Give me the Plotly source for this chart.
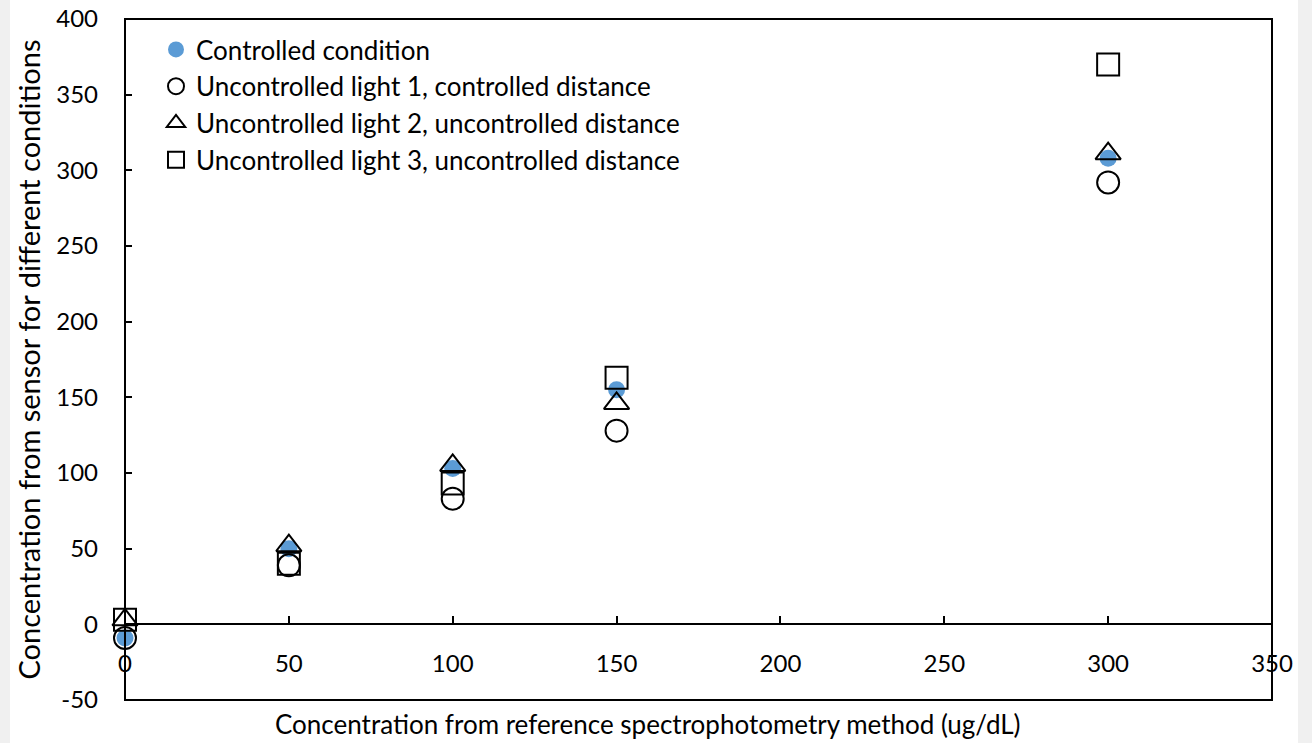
import plotly.graph_objects as go

# Reference concentrations (ug/dL)
reference = [0, 50, 100, 150, 300]

# Sensor readings under each condition
controlled = [-9, 50, 103, 155, 308]
light1_ctrl_dist = [-9, 39, 83, 128, 292]
light2_unctrl_dist = [3, 52, 105, 146, 311]
light3_unctrl_dist = [3, 40, 93, 163, 370]

series_names = [
    "Controlled condition",
    "Uncontrolled light 1, controlled distance",
    "Uncontrolled light 2, uncontrolled distance",
    "Uncontrolled light 3, uncontrolled distance",
]

x_ticks = [0, 50, 100, 150, 200, 250, 300, 350]
y_ticks = [-50, 0, 50, 100, 150, 200, 250, 300, 350, 400]
y_tick_text = ["-50", "0", "50", "100", "150", "200", "250", "300", "350", "400"]

FONT = "Lato"
W, H = 1312, 743
L, R, T, B = 125, 40, 19, 43
PW, PH = W - L - R, H - T - B


def px_x(p):
    return (p - L) / PW


def px_y(p):
    return (H - B - p) / PH


fig = go.Figure()

styles = [
    dict(symbol="circle", size=17, color="#5B9BD5", line=dict(width=0)),
    dict(symbol="circle-open", size=22, color="black", line=dict(width=2)),
    dict(symbol="triangle-up-open", size=22, color="black", line=dict(width=2)),
    dict(symbol="square-open", size=22, color="black", line=dict(width=2)),
]
values = [controlled, light1_ctrl_dist, light2_unctrl_dist, light3_unctrl_dist]

for i, (name, ys, st) in enumerate(zip(series_names, values, styles)):
    fig.add_trace(go.Scatter(
        x=reference, y=ys, mode="markers", name=name,
        legendgroup=f"g{i}", marker=st, cliponaxis=False,
    ))

fig.update_layout(
    width=W, height=H,
    margin=dict(l=L, r=R, t=T, b=B, autoexpand=False),
    paper_bgcolor="#f0f0f0",
    plot_bgcolor="white",
    font=dict(family=FONT, size=24, color="black"),
    showlegend=True,
    legend=dict(
        x=px_x(156), y=px_y(26), xanchor="left", yanchor="top",
        bgcolor="rgba(0,0,0,0)", font=dict(size=26),
        tracegroupgap=0, itemsizing="trace",
    ),
    xaxis=dict(
        range=[0, 350], tickvals=x_ticks, ticktext=[str(v) for v in x_ticks],
        anchor="free", position=50 / 450, automargin=False,
        showline=True, linecolor="black", linewidth=2,
        ticks="inside", ticklen=7, tickwidth=1.5, tickcolor="black",
        ticklabelstandoff=18,
        showgrid=False, zeroline=False,
        tickfont=dict(size=24),
    ),
    yaxis=dict(
        range=[-50, 400], tickvals=y_ticks, ticktext=y_tick_text,
        automargin=False,
        showline=False,
        ticks="inside", ticklen=7, tickwidth=1.5, tickcolor="black",
        ticklabelstandoff=26,
        showgrid=False, zeroline=False,
        tickfont=dict(size=24),
        title=dict(text="Concentration from sensor for different conditions",
                   font=dict(size=29), standoff=7),
    ),
    shapes=[
        # white page panel
        dict(type="rect", xref="paper", yref="paper", layer="below",
             x0=px_x(10), x1=px_x(1298), y0=px_y(743), y1=px_y(0),
             fillcolor="white", line=dict(width=0)),
        # plot frame
        dict(type="rect", xref="paper", yref="paper", layer="above",
             x0=0, x1=1, y0=0, y1=1, line=dict(color="black", width=2)),
    ],
    annotations=[
        dict(text="Concentration from reference spectrophotometry method (ug/dL)",
             xref="paper", yref="paper", x=px_x(648), y=px_y(724),
             xanchor="center", yanchor="middle", showarrow=False,
             font=dict(size=26)),
    ],
)

fig.write_html("out.html")
